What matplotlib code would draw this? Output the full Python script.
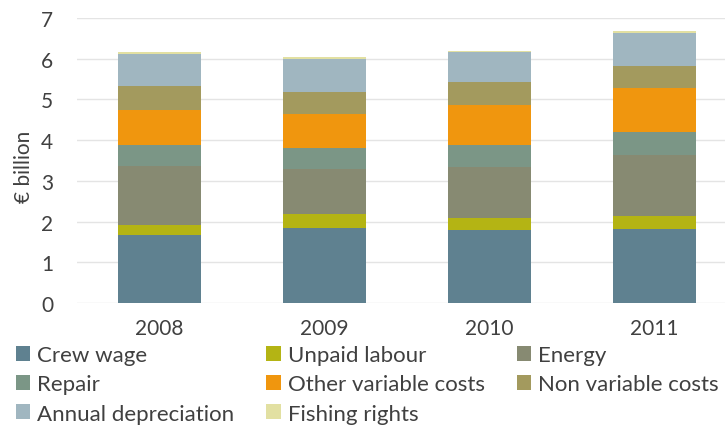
import matplotlib
matplotlib.use('Agg')
import matplotlib.pyplot as plt
import numpy as np
from matplotlib.patches import Patch

plt.rcParams['font.family'] = ['Lato', 'DejaVu Sans']

years = ['2008', '2009', '2010', '2011']

crew_wage = [1.68, 1.83, 1.80, 1.82]
unpaid_labour = [0.24, 0.36, 0.29, 0.31]
energy = [1.45, 1.09, 1.24, 1.51]
repair = [0.50, 0.52, 0.54, 0.57]
other_variable = [0.88, 0.84, 0.99, 1.06]
non_variable = [0.57, 0.54, 0.56, 0.56]
depreciation = [0.80, 0.82, 0.75, 0.80]
fishing_rights = [0.04, 0.03, 0.03, 0.05]

series = [
    ('Crew wage', crew_wage, '#5f8190'),
    ('Unpaid labour', unpaid_labour, '#b4b414'),
    ('Energy', energy, '#878a72'),
    ('Repair', repair, '#7b9686'),
    ('Other variable costs', other_variable, '#f0960e'),
    ('Non variable costs', non_variable, '#a39a5e'),
    ('Annual depreciation', depreciation, '#a0b6c0'),
    ('Fishing rights', fishing_rights, '#e2e0a2'),
]

text_color = '#404040'

fig = plt.figure(figsize=(7.25, 4.31), dpi=100)
ax = fig.add_axes([77 / 725, 1 - 304 / 431, 1 - 77 / 725, (304 - 19) / 431])

x = np.arange(len(years))
bottom = np.zeros(len(years))
handles = {}
for name, vals, color in series:
    ax.bar(x, vals, 0.5, bottom=bottom, color=color, zorder=2)
    bottom += np.array(vals)
    handles[name] = Patch(facecolor=color, edgecolor='none')

ax.set_xlim(-0.5, (725 - 77) / 165 - 0.5)
ax.set_ylim(0, 7)
ax.set_yticks(range(0, 8))
ax.set_xticks(x)
ax.set_xticklabels(years)
ax.grid(axis='y', color='#e4e4e4', linewidth=1, zorder=0)
for s in ax.spines.values():
    s.set_visible(False)
ax.tick_params(axis='both', length=0, labelsize=15, colors=text_color)
ax.tick_params(axis='y', pad=17)
ax.tick_params(axis='x', pad=11)
ax.set_ylabel('€ billion', fontsize=15, color=text_color)
ax.yaxis.set_label_coords(-0.066, 0.48)

order = ['Crew wage', 'Repair', 'Annual depreciation',
         'Unpaid labour', 'Other variable costs', 'Fishing rights',
         'Energy', 'Non variable costs']
leg = fig.legend([handles[n] for n in order], order, ncol=3,
                 loc='upper left', bbox_to_anchor=(16 / 725, 1 - 346 / 431),
                 frameon=False, fontsize=16, handlelength=0.65, handleheight=0.65,
                 handletextpad=0.3, columnspacing=1.45, labelspacing=0.42,
                 borderaxespad=0, borderpad=0)
for t in leg.get_texts():
    t.set_color(text_color)

fig.savefig('out.png', dpi=100)
